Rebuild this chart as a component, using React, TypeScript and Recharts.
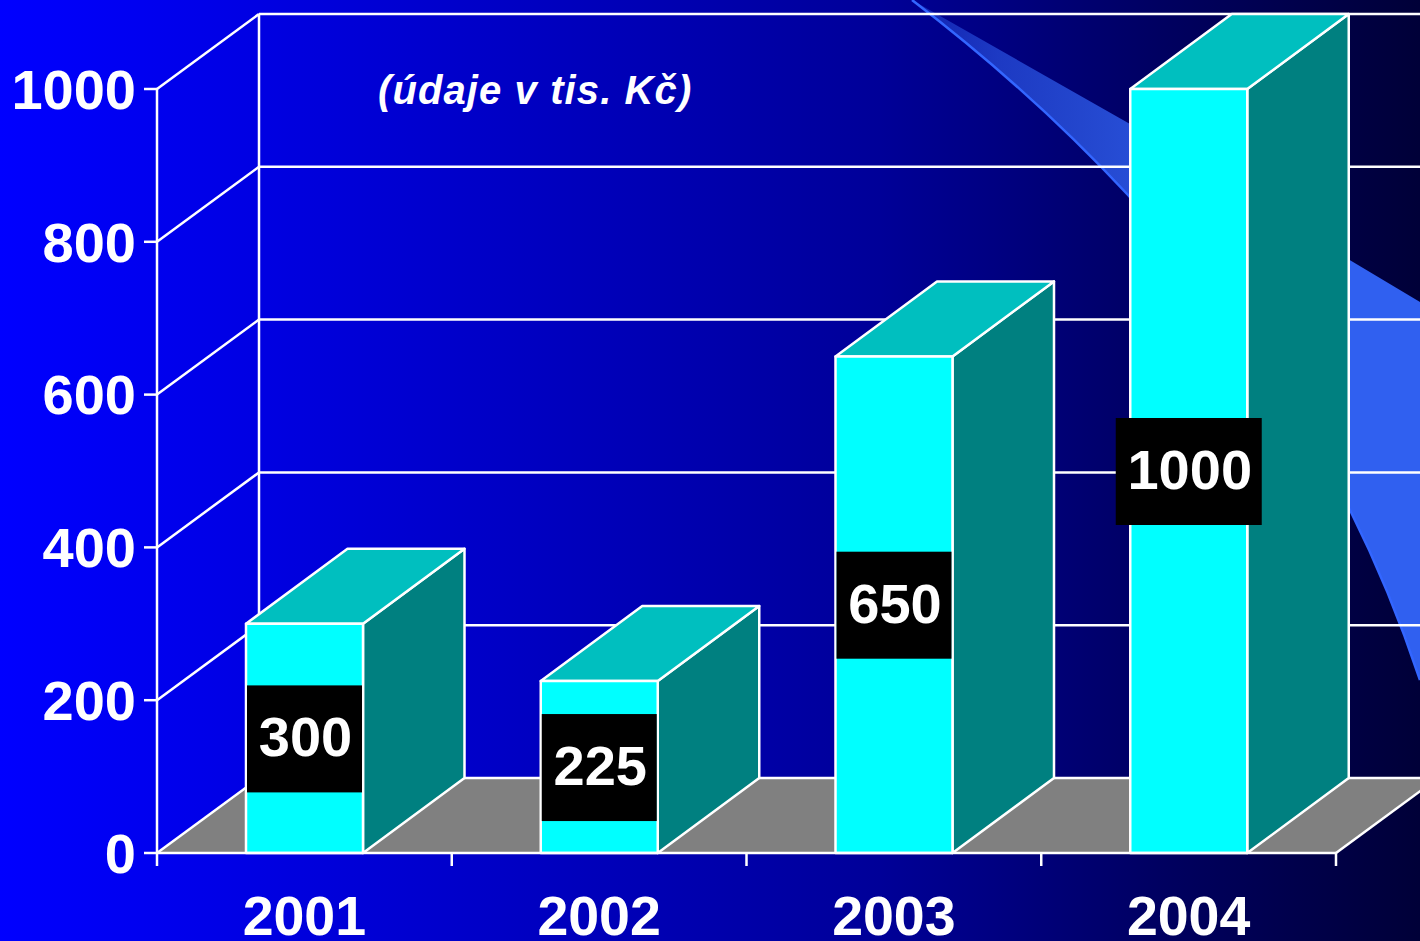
import React from "react";
import { BarChart, Bar, XAxis, YAxis, CartesianGrid, LabelList } from "recharts";

const YEARS = ["2001", "2002", "2003", "2004"];
const AMOUNTS = [300, 225, 650, 1000];
const Y_TICKS = [0, 200, 400, 600, 800, 1000];

const chartData = YEARS.map((year, i) => ({ year, amount: AMOUNTS[i] }));

const WIDTH = 1420;
const HEIGHT = 941;
const MARGIN = { top: 89, right: 84, bottom: 0, left: 0 };
const Y_AXIS_WIDTH = 157;
const X_AXIS_HEIGHT = 88;
const HALF_BAND = (WIDTH - MARGIN.right - Y_AXIS_WIDTH) / YEARS.length / 2;

// depth of the fake 3D box
const DX = 102;
const DY = -75;
const BOX_DX = 101.5;

const FONT = '"Liberation Sans", Arial, sans-serif';
const LINE = "#ffffff";
const LINE_W = 2.5;

const GridLine = (props: any) => {
    const { x1, x2, y1 } = props;
    const isFloor = y1 > 800;
    const isTop = y1 < 100;
    return (
        <g key={props.key}>
            {isFloor && (
                <polygon
                    points={`${x1},${y1} ${x1 + DX},${y1 + DY - 1} ${x2 + DX},${y1 + DY - 1} ${x2},${y1}`}
                    fill="#808080"
                />
            )}
            {isTop && (
                <line x1={x1 + DX} y1={y1 + DY} x2={x1 + DX} y2={777} stroke={LINE} strokeWidth={LINE_W} />
            )}
            <line x1={x1} y1={y1} x2={x1 + DX} y2={y1 + DY} stroke={LINE} strokeWidth={LINE_W} />
            <line x1={x1 + DX} y1={y1 + DY} x2={x2 + DX} y2={y1 + DY} stroke={LINE} strokeWidth={LINE_W} />
            {isFloor && (
                <line x1={x2} y1={y1} x2={x2 + DX} y2={y1 + DY} stroke={LINE} strokeWidth={LINE_W} />
            )}
        </g>
    );
};

const Box3D = (props: any) => {
    const { x, y, width, height } = props;
    const r = x + width;
    const b = y + height;
    return (
        <g stroke={LINE} strokeWidth={LINE_W} strokeLinejoin="round">
            <polygon
                points={`${r},${y} ${r + BOX_DX},${y + DY} ${r + BOX_DX},${b + DY} ${r},${b}`}
                fill="#008080"
            />
            <polygon
                points={`${x},${y} ${x + BOX_DX},${y + DY} ${r + BOX_DX},${y + DY} ${r},${y}`}
                fill="#00bfbf"
            />
            <rect x={x} y={y} width={width} height={height} fill="#00ffff" />
        </g>
    );
};

const ValueBadge = (props: any) => {
    const { x, y, width, height, value } = props;
    const cx = x + width / 2;
    const cy = y + height / 2;
    const w = String(value).length * 31 + 22;
    return (
        <g>
            <rect x={cx - w / 2} y={cy - 53} width={w} height={107} fill="#000000" />
            <text
                x={cx + 1}
                y={cy - 2}
                dy="0.355em"
                textAnchor="middle"
                fill="#ffffff"
                fontFamily={FONT}
                fontWeight="bold"
                fontSize={56}
            >
                {value}
            </text>
        </g>
    );
};

const YearTick = (props: any) => {
    const { x, y, payload, index } = props;
    const left = x - HALF_BAND;
    const right = x + HALF_BAND;
    const top = y - 8;
    return (
        <g>
            <line x1={left} y1={top} x2={left} y2={top + 13} stroke={LINE} strokeWidth={LINE_W} />
            {index === YEARS.length - 1 && (
                <line x1={right} y1={top} x2={right} y2={top + 13} stroke={LINE} strokeWidth={LINE_W} />
            )}
            <text
                x={x}
                y={top + 62}
                dy="0.355em"
                textAnchor="middle"
                fill="#ffffff"
                fontFamily={FONT}
                fontWeight="bold"
                fontSize={55.5}
            >
                {payload.value}
            </text>
        </g>
    );
};

export default function App() {
    return (
        <div
            style={{
                position: "absolute",
                left: 0,
                top: 0,
                width: WIDTH,
                height: HEIGHT,
                overflow: "hidden",
                background:
                    "linear-gradient(90deg, #0000ff 0%, #0000f0 10%, #000098 62%, #000060 82%, #000038 100%)",
            }}
        >
            {/* decorative swoosh behind the chart */}
            <svg width={WIDTH} height={HEIGHT} style={{ position: "absolute", left: 0, top: 0 }}>
                <defs>
                    <linearGradient id="swoosh" x1="912" y1="0" x2="1340" y2="0" gradientUnits="userSpaceOnUse">
                        <stop offset="0%" stopColor="#3060f0" stopOpacity={0.35} />
                        <stop offset="20%" stopColor="#3060f0" stopOpacity={0.6} />
                        <stop offset="50%" stopColor="#3060f0" stopOpacity={0.8} />
                        <stop offset="100%" stopColor="#3060f0" stopOpacity={1} />
                    </linearGradient>
                </defs>
                <path
                    d="M912,0 L1130,124 L1348,259 L1420,302 L1420,680 Q1390,590 1350,510 Q1250,330 1128,195 Q1030,90 912,0 Z"
                    fill="url(#swoosh)"
                />
                <path
                    d="M1420,680 Q1390,590 1350,510 Q1250,330 1128,195 Q1030,90 912,0"
                    fill="none"
                    stroke="#3366ff"
                    strokeWidth={2.5}
                />
            </svg>
            <div style={{ position: "absolute", left: 0, top: 0 }}>
                <BarChart
                    width={WIDTH}
                    height={HEIGHT}
                    data={chartData}
                    margin={MARGIN}
                    barSize={117}
                >
                    <CartesianGrid horizontal={GridLine} vertical={false} />
                    <XAxis
                        dataKey="year"
                        height={X_AXIS_HEIGHT}
                        interval={0}
                        tickLine={false}
                        axisLine={{ stroke: LINE, strokeWidth: LINE_W }}
                        tick={YearTick}
                    />
                    <YAxis
                        width={Y_AXIS_WIDTH}
                        domain={[0, 1000]}
                        ticks={Y_TICKS}
                        interval={0}
                        tickSize={13}
                        tickMargin={8}
                        tickLine={{ stroke: LINE, strokeWidth: LINE_W }}
                        axisLine={{ stroke: LINE, strokeWidth: LINE_W }}
                        tick={{ fill: "#ffffff", fontFamily: FONT, fontWeight: "bold", fontSize: 56 }}
                    />
                    <Bar dataKey="amount" shape={Box3D} isAnimationActive={false}>
                        <LabelList dataKey="amount" content={ValueBadge} />
                    </Bar>
                </BarChart>
            </div>
            <div
                style={{
                    position: "absolute",
                    left: 378,
                    top: 67,
                    color: "#ffffff",
                    fontFamily: FONT,
                    fontWeight: "bold",
                    fontStyle: "italic",
                    fontSize: 40,
                    letterSpacing: 1.1,
                    lineHeight: "46px",
                    whiteSpace: "nowrap",
                }}
            >
                (údaje v tis. Kč)
            </div>
        </div>
    );
}
